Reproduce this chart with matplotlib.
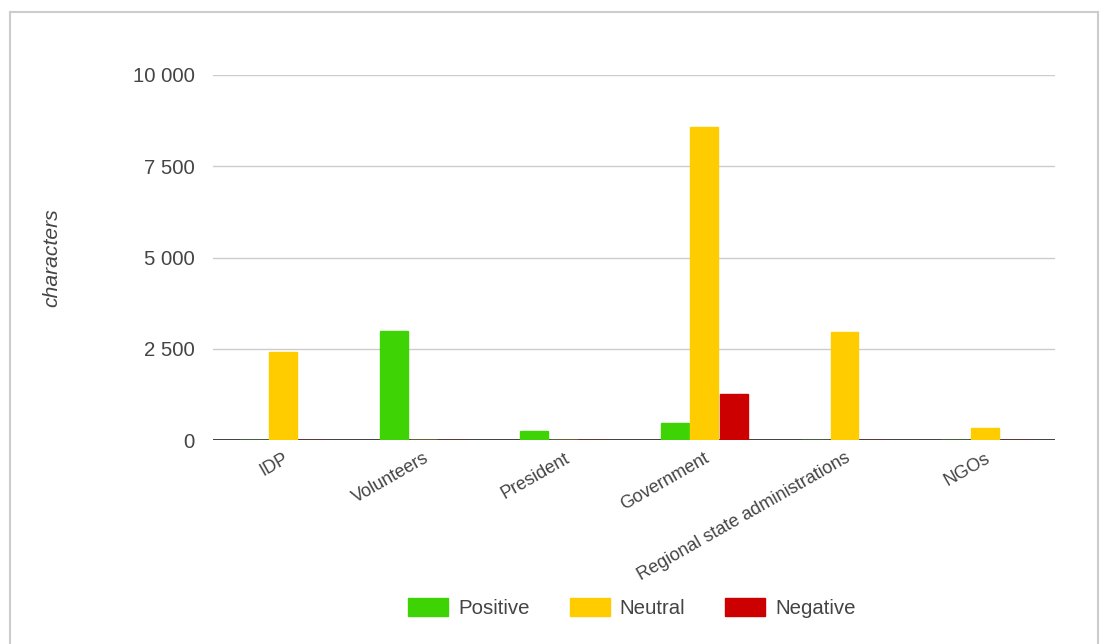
import matplotlib
matplotlib.use("Agg")
import matplotlib.pyplot as plt
import numpy as np
from matplotlib.patches import Rectangle, Patch
from matplotlib.ticker import FuncFormatter

categories = ["IDP", "Volunteers", "President", "Government",
              "Regional state administrations", "NGOs"]
positive = [0, 3000, 250, 470, 0, 0]
neutral = [2420, 0, 0, 8570, 2960, 330]
negative = [0, 0, 0, 1260, 0, 0]
series_names = ["Positive", "Neutral", "Negative"]
colors = ["#3ed305", "#ffcc00", "#cc0000"]
yticks = [0, 2500, 5000, 7500, 10000]

plt.rcParams['font.family'] = ['Liberation Sans', 'DejaVu Sans']
fig = plt.figure(figsize=(11.05, 6.44), dpi=100)
ax = fig.add_axes([213/1105, 1-440/644, (1055-213)/1105, (440-75)/644])

x = np.arange(len(categories))
w = 0.198
for i, (vals, c) in enumerate(zip([positive, neutral, negative], colors)):
    ax.bar(x + (i-1)*w*1.06, vals, width=w, color=c, edgecolor=c,
           linewidth=1.0, zorder=3, label=series_names[i])

ax.set_xlim(-0.5, len(categories)-0.5)
ax.set_ylim(0, 10000)
ax.set_yticks(yticks)
ax.yaxis.set_major_formatter(FuncFormatter(lambda v, p: f"{int(v):,}".replace(",", " ")))
ax.grid(axis='y', color='#cccccc', linewidth=1, zorder=0)
ax.axhline(0, color='#333333', linewidth=1.3, zorder=2)
for s in ax.spines.values():
    s.set_visible(False)
ax.tick_params(axis='both', length=0, labelcolor='#444444')
ax.tick_params(axis='y', pad=13, labelsize=14.7)
ax.set_xticks(x)
ax.set_xticklabels(categories, rotation=29.7, ha='right', va='top',
                   rotation_mode='anchor', fontsize=13.0, color='#444444')
ax.tick_params(axis='x', pad=7)
ax.set_ylabel("characters", fontsize=15.2, style='italic', color='#444444', labelpad=0)
ax.yaxis.set_label_coords((61-213)/842, 0.5)

handles = [Patch(facecolor=c, edgecolor=c) for c in colors]
fig.legend(handles, series_names, loc='center', bbox_to_anchor=(632/1105, 1-608/644),
           ncol=3, frameon=False, fontsize=14.7, handlelength=1.96, handleheight=1.0,
           handletextpad=0.5, columnspacing=1.95, labelcolor='#444444')

fig.patches.append(Rectangle((10/1105, -0.01), 1088/1105, 1-12/644+0.01,
                             transform=fig.transFigure, fill=False,
                             edgecolor='#cccccc', linewidth=1.5))
fig.savefig("out.png", dpi=100)
